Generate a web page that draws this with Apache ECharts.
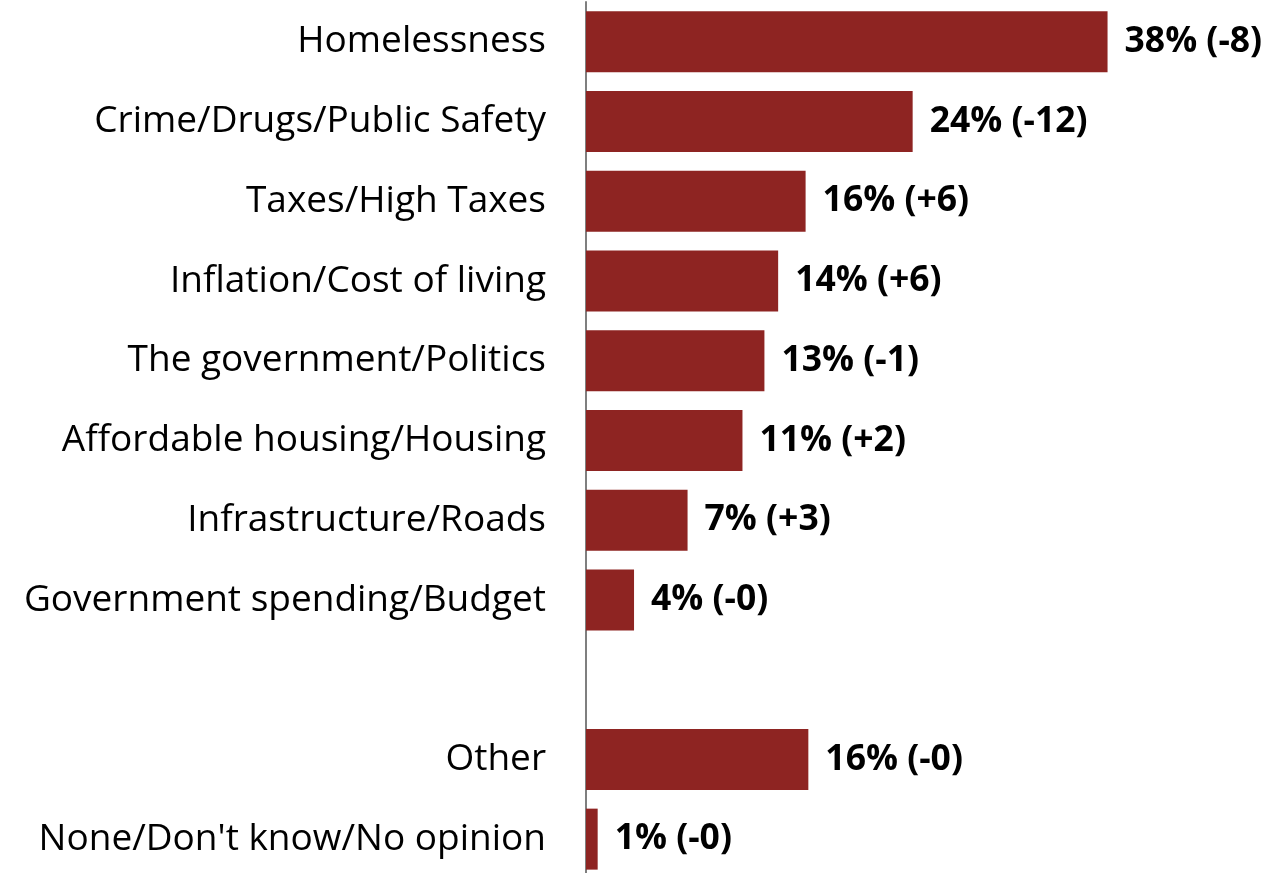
<!DOCTYPE html>
<html>
<head>
<meta charset="utf-8">
<script src="https://cdn.jsdelivr.net/npm/echarts@6/dist/echarts.min.js"></script>
<style>
html,body{margin:0;padding:0;background:#fff;}
#chart{width:1273px;height:873px;}
</style>
</head>
<body>
<div id="chart"></div>
<script>
const categories = [
  "Homelessness",
  "Crime/Drugs/Public Safety",
  "Taxes/High Taxes",
  "Inflation/Cost of living",
  "The government/Politics",
  "Affordable housing/Housing",
  "Infrastructure/Roads",
  "Government spending/Budget",
  "",
  "Other",
  "None/Don't know/No opinion"
];
// bar lengths (percent)
const values = [38.0, 23.8, 16.0, 14.0, 13.0, 11.4, 7.4, 3.5, null, 16.2, 0.85];
// shown percentages
const shares = [38, 24, 16, 14, 13, 11, 7, 4, null, 16, 1];
// change versus previous survey
const changes = ["-8", "-12", "+6", "+6", "-1", "+2", "+3", "-0", null, "-0", "-0"];

const chart = echarts.init(document.getElementById('chart'));
chart.setOption({
  animation: false,
  grid: { left: 586, right: 138, top: 2, height: 877, outerBoundsMode: 'none', containLabel: false },
  xAxis: {
    type: 'value', min: 0, max: 40,
    axisLine: { show: false }, axisTick: { show: false },
    axisLabel: { show: false }, splitLine: { show: false }
  },
  yAxis: {
    type: 'category', inverse: true, data: categories,
    axisLine: { show: true, lineStyle: { color: '#7f7f7f', width: 2 } },
    axisTick: { show: false },
    axisLabel: {
      color: '#000', fontFamily: 'Open Sans', fontSize: 37, margin: 40,
      padding: [5, 0, 0, 0]
    }
  },
  series: [{
    type: 'bar',
    data: values,
    barCategoryGap: '23.5%',
    itemStyle: { color: '#8e2422' },
    label: {
      show: true, position: 'right', distance: 17,
      color: '#000', fontFamily: 'Open Sans', fontWeight: 'bold', fontSize: 35.5,
      padding: [4, 0, 0, 0],
      formatter: p => shares[p.dataIndex] == null ? '' : shares[p.dataIndex] + '% (' + changes[p.dataIndex] + ')'
    }
  }]
});
</script>
</body>
</html>
